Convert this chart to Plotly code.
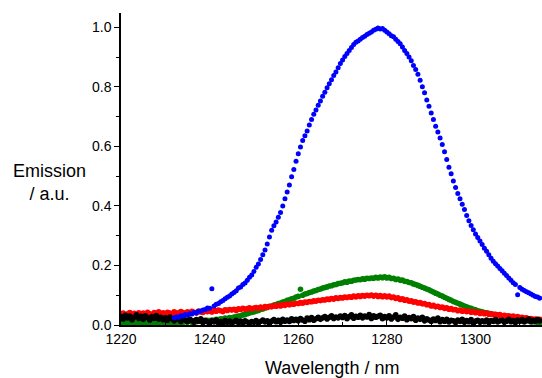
import plotly.graph_objects as go

# Wavelength grid (nm), 0.5 nm steps
wavelength_nm = [1220 + 0.5 * i for i in range(190)]
blue_wavelength_nm = [1232 + 0.5 * i for i in range(166)]

blue_emission = [
    0.024, 0.027, 0.026, 0.031, 0.030, 0.035, 0.033, 0.038,
    0.037, 0.042, 0.040, 0.046, 0.047, 0.050, 0.052, 0.057,
    0.056, 0.122, 0.064, 0.070, 0.072, 0.078, 0.082, 0.088,
    0.093, 0.097, 0.104, 0.109, 0.115, 0.124, 0.128, 0.136,
    0.141, 0.150, 0.160, 0.168, 0.180, 0.194, 0.205, 0.220,
    0.236, 0.252, 0.272, 0.296, 0.318, 0.333, 0.346, 0.362,
    0.378, 0.400, 0.424, 0.447, 0.470, 0.498, 0.522, 0.550,
    0.575, 0.598, 0.620, 0.636, 0.652, 0.672, 0.690, 0.708,
    0.722, 0.738, 0.752, 0.768, 0.782, 0.797, 0.810, 0.824,
    0.838, 0.850, 0.864, 0.878, 0.890, 0.902, 0.912, 0.922,
    0.932, 0.942, 0.950, 0.954, 0.960, 0.966, 0.970, 0.976,
    0.980, 0.984, 0.990, 0.993, 0.998, 0.994, 0.996, 0.990,
    0.984, 0.978, 0.972, 0.968, 0.960, 0.952, 0.945, 0.934,
    0.922, 0.912, 0.900, 0.888, 0.872, 0.858, 0.842, 0.822,
    0.800, 0.780, 0.756, 0.735, 0.712, 0.690, 0.668, 0.648,
    0.628, 0.606, 0.582, 0.556, 0.530, 0.508, 0.484, 0.462,
    0.442, 0.424, 0.406, 0.388, 0.368, 0.350, 0.334, 0.320,
    0.306, 0.294, 0.282, 0.270, 0.258, 0.248, 0.236, 0.224,
    0.214, 0.206, 0.198, 0.190, 0.182, 0.174, 0.166, 0.158,
    0.150, 0.142, 0.136, 0.102, 0.126, 0.120, 0.116, 0.112,
    0.108, 0.104, 0.100, 0.096, 0.094, 0.090,
]

green_emission = [
    0.008, 0.004, 0.010, 0.006, 0.012, 0.005, 0.009, 0.003, 0.011, 0.007,
    0.006, 0.010, 0.004, 0.009, 0.007, 0.012, 0.005, 0.008, 0.010, 0.006,
    0.009, 0.007, 0.011, 0.006, 0.010, 0.008, 0.012, 0.007, 0.009, 0.011,
    0.010, 0.013, 0.009, 0.012, 0.011, 0.014, 0.012, 0.015, 0.013, 0.016,
    0.015, 0.017, 0.016, 0.019, 0.018, 0.021, 0.020, 0.023, 0.022, 0.025,
    0.024, 0.027, 0.028, 0.030, 0.031, 0.034, 0.035, 0.038, 0.040, 0.042,
    0.044, 0.047, 0.049, 0.052, 0.054, 0.057, 0.059, 0.062, 0.064, 0.067,
    0.069, 0.072, 0.074, 0.077, 0.079, 0.083, 0.085, 0.088, 0.090, 0.094,
    0.096, 0.120, 0.100, 0.104, 0.106, 0.109, 0.111, 0.114, 0.116, 0.119,
    0.121, 0.124, 0.126, 0.128, 0.131, 0.132, 0.135, 0.136, 0.139, 0.140,
    0.142, 0.145, 0.144, 0.148, 0.147, 0.150, 0.151, 0.153, 0.152, 0.155,
    0.154, 0.157, 0.156, 0.158, 0.157, 0.160, 0.158, 0.161, 0.159, 0.162,
    0.158, 0.160, 0.156, 0.157, 0.153, 0.154, 0.150, 0.151, 0.147, 0.146,
    0.143, 0.142, 0.138, 0.136, 0.133, 0.130, 0.127, 0.124, 0.121, 0.118,
    0.114, 0.111, 0.107, 0.104, 0.100, 0.097, 0.093, 0.090, 0.086, 0.083,
    0.079, 0.076, 0.073, 0.070, 0.067, 0.064, 0.061, 0.058, 0.056, 0.053,
    0.051, 0.048, 0.046, 0.044, 0.042, 0.041, 0.039, 0.038, 0.036, 0.035,
    0.034, 0.032, 0.031, 0.029, 0.028, 0.026, 0.025, 0.023, 0.022, 0.020,
    0.019, 0.018, 0.016, 0.015, 0.014, 0.012, 0.011, 0.010, 0.009, 0.008,
]

red_emission = [
    0.036, 0.040, 0.033, 0.038, 0.042, 0.035, 0.039, 0.034, 0.041, 0.037,
    0.040, 0.035, 0.043, 0.038, 0.036, 0.042, 0.039, 0.044, 0.037, 0.041,
    0.038, 0.043, 0.040, 0.036, 0.044, 0.041, 0.039, 0.045, 0.042, 0.040,
    0.044, 0.041, 0.046, 0.043, 0.040, 0.047, 0.044, 0.042, 0.048, 0.045,
    0.047, 0.044, 0.049, 0.046, 0.050, 0.048, 0.045, 0.051, 0.049, 0.052,
    0.050, 0.053, 0.049, 0.054, 0.052, 0.056, 0.053, 0.055, 0.058, 0.054,
    0.057, 0.059, 0.056, 0.060, 0.058, 0.062, 0.060, 0.063, 0.061, 0.065,
    0.063, 0.066, 0.064, 0.068, 0.066, 0.070, 0.068, 0.071, 0.070, 0.073,
    0.072, 0.075, 0.073, 0.077, 0.076, 0.079, 0.078, 0.081, 0.080, 0.083,
    0.082, 0.085, 0.084, 0.087, 0.086, 0.089, 0.087, 0.091, 0.089, 0.092,
    0.091, 0.094, 0.092, 0.095, 0.093, 0.097, 0.094, 0.098, 0.096, 0.099,
    0.097, 0.100, 0.098, 0.101, 0.097, 0.100, 0.096, 0.099, 0.095, 0.098,
    0.094, 0.097, 0.092, 0.094, 0.089, 0.091, 0.086, 0.088, 0.083, 0.085,
    0.080, 0.081, 0.077, 0.078, 0.074, 0.075, 0.071, 0.072, 0.068, 0.069,
    0.064, 0.066, 0.061, 0.063, 0.059, 0.060, 0.056, 0.058, 0.053, 0.055,
    0.051, 0.052, 0.048, 0.050, 0.046, 0.048, 0.045, 0.046, 0.043, 0.045,
    0.041, 0.043, 0.039, 0.041, 0.038, 0.040, 0.036, 0.038, 0.035, 0.036,
    0.033, 0.035, 0.031, 0.033, 0.030, 0.031, 0.028, 0.030, 0.026, 0.028,
    0.025, 0.026, 0.023, 0.024, 0.021, 0.022, 0.019, 0.020, 0.017, 0.019,
]

black_emission = [
    0.028, 0.020, 0.033, 0.024, 0.030, 0.018, 0.026, 0.034, 0.022, 0.029,
    0.019, 0.031, 0.025, 0.017, 0.028, 0.023, 0.032, 0.020, 0.026, 0.018,
    0.024, 0.016, 0.027, 0.021, 0.014, 0.025, 0.019, 0.012, 0.022, 0.017,
    0.011, 0.020, 0.015, 0.009, 0.018, 0.013, 0.021, 0.008, 0.016, 0.011,
    0.006, 0.014, 0.010, 0.017, 0.007, 0.012, 0.004, 0.015, 0.009, 0.013,
    0.005, 0.011, 0.016, 0.008, 0.013, 0.006, 0.014, 0.010, 0.004, 0.012,
    0.009, 0.015, 0.007, 0.012, 0.017, 0.010, 0.014, 0.006, 0.013, 0.018,
    0.011, 0.016, 0.009, 0.019, 0.013, 0.017, 0.012, 0.021, 0.015, 0.019,
    0.014, 0.022, 0.017, 0.013, 0.023, 0.018, 0.025, 0.016, 0.021, 0.026,
    0.019, 0.024, 0.028, 0.020, 0.026, 0.031, 0.022, 0.027, 0.024, 0.030,
    0.025, 0.032, 0.021, 0.028, 0.034, 0.023, 0.029, 0.026, 0.033, 0.024,
    0.030, 0.027, 0.035, 0.022, 0.031, 0.026, 0.029, 0.033, 0.021, 0.028,
    0.024, 0.031, 0.020, 0.027, 0.034, 0.019, 0.026, 0.023, 0.030, 0.018,
    0.025, 0.021, 0.028, 0.016, 0.023, 0.019, 0.026, 0.014, 0.021, 0.017,
    0.012, 0.020, 0.015, 0.023, 0.011, 0.018, 0.013, 0.019, 0.010, 0.016,
    0.014, 0.008, 0.017, 0.012, 0.019, 0.009, 0.015, 0.011, 0.018, 0.007,
    0.013, 0.016, 0.009, 0.014, 0.011, 0.017, 0.008, 0.015, 0.012, 0.018,
    0.010, 0.014, 0.016, 0.009, 0.013, 0.019, 0.011, 0.015, 0.008, 0.017,
    0.012, 0.018, 0.010, 0.015, 0.020, 0.011, 0.016, 0.013, 0.019, 0.014,
]

FONT = "Liberation Sans, Arial, sans-serif"

fig = go.Figure()
for xs, ys, col, ms in [
    (wavelength_nm, green_emission, "#008000", 5.6),
    (wavelength_nm, red_emission, "#ff0000", 5.6),
    (wavelength_nm, black_emission, "#000000", 5.6),
    (blue_wavelength_nm, blue_emission, "#0000ff", 5.0),
]:
    fig.add_trace(go.Scatter(
        x=xs, y=ys, mode="markers",
        marker=dict(size=ms, color=col, line=dict(width=0)),
        showlegend=False,
    ))

fig.update_layout(
    width=542, height=378,
    margin=dict(l=121, r=0, t=13, b=53),
    plot_bgcolor="white", paper_bgcolor="white",
    font=dict(family=FONT, size=14, color="black"),
    xaxis=dict(
        range=[1220, 1315], showgrid=False, zeroline=False,
        showline=True, linecolor="black", linewidth=1.5,
        tickmode="array", tickvals=[1220, 1240, 1260, 1280, 1300],
        ticks="inside", ticklen=5, tickwidth=1.2, tickcolor="black",
        minor=dict(tickvals=[1230, 1250, 1270, 1290, 1310], ticks="inside",
                   ticklen=3, tickwidth=1, tickcolor="black"),
        tickfont=dict(size=14, family=FONT),
    ),
    yaxis=dict(
        range=[0, 1.048], showgrid=False, zeroline=False,
        showline=True, linecolor="black", linewidth=1.5,
        tickmode="array", tickvals=[0, 0.2, 0.4, 0.6, 0.8, 1.0],
        ticktext=["0.0", "0.2", "0.4", "0.6", "0.8", "1.0"],
        ticks="outside", ticklen=5, tickwidth=1.2, tickcolor="black",
        minor=dict(tickvals=[0.1, 0.3, 0.5, 0.7, 0.9], ticks="outside",
                   ticklen=3, tickwidth=1, tickcolor="black"),
        tickfont=dict(size=14, family=FONT),
    ),
    annotations=[
        dict(text="Emission<br>/ a.u.", xref="paper", yref="paper",
             x=-0.169, y=0.458, xanchor="center", yanchor="middle",
             showarrow=False, align="center",
             font=dict(size=18, family=FONT, color="black")),
        dict(text="Wavelength / nm", xref="paper", yref="paper",
             x=0.5, y=-0.138, xanchor="center", yanchor="middle",
             showarrow=False,
             font=dict(size=18, family=FONT, color="black")),
    ],
)

fig.write_html("out.html")
